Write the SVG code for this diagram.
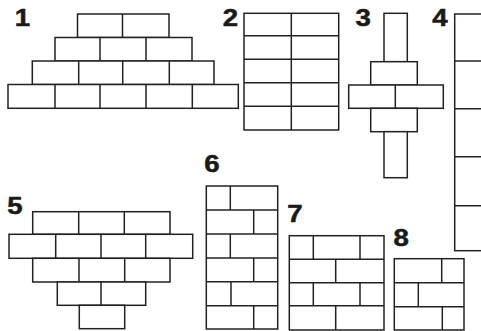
<svg xmlns="http://www.w3.org/2000/svg" width="481" height="331" viewBox="0 0 481 331">
<style>
.b{fill:#fff;stroke:#222;stroke-width:1.5}
.l{fill:none;stroke:#222;stroke-width:1.5}
.t{font-family:"Liberation Sans",Arial,sans-serif;font-weight:bold;font-size:23px;fill:#1a1a1a;stroke:#1a1a1a;stroke-width:0.5;text-anchor:middle}
</style>
<rect width="481" height="331" fill="#fff"/>
<g id="fig1">
<text class="t" transform="translate(22.5,26.3) scale(1.2,1)">1</text>
<rect class="b" x="77.5" y="14" width="91.5" height="23.5"/>
<line class="l" x1="122.5" y1="14" x2="122.5" y2="37.5"/>
<rect class="b" x="55" y="37.5" width="137" height="23.5"/>
<line class="l" x1="100" y1="37.5" x2="100" y2="61"/>
<line class="l" x1="146" y1="37.5" x2="146" y2="61"/>
<rect class="b" x="32.3" y="61" width="181.7" height="23.5"/>
<line class="l" x1="78.7" y1="61" x2="78.7" y2="84.5"/>
<line class="l" x1="122.7" y1="61" x2="122.7" y2="84.5"/>
<line class="l" x1="169.3" y1="61" x2="169.3" y2="84.5"/>
<rect class="b" x="8" y="84.5" width="230.3" height="23.8"/>
<line class="l" x1="55" y1="84.5" x2="55" y2="108.3"/>
<line class="l" x1="100" y1="84.5" x2="100" y2="108.3"/>
<line class="l" x1="146" y1="84.5" x2="146" y2="108.3"/>
<line class="l" x1="192.3" y1="84.5" x2="192.3" y2="108.3"/>
</g>
<g id="fig2">
<text class="t" transform="translate(230.5,26) scale(1.2,1)">2</text>
<rect class="b" x="244" y="13.3" width="94.7" height="116.7"/>
<line class="l" x1="291.3" y1="13.3" x2="291.3" y2="130"/>
<line class="l" x1="244" y1="35.7" x2="338.7" y2="35.7"/>
<line class="l" x1="244" y1="59.3" x2="338.7" y2="59.3"/>
<line class="l" x1="244" y1="82.7" x2="338.7" y2="82.7"/>
<line class="l" x1="244" y1="106.3" x2="338.7" y2="106.3"/>
</g>
<g id="fig3">
<text class="t" transform="translate(363.2,26) scale(1.2,1)">3</text>
<rect class="b" x="384" y="13.3" width="23.3" height="48.4"/>
<rect class="b" x="370.7" y="61.7" width="46.6" height="23.3"/>
<rect class="b" x="348.7" y="85" width="94.6" height="23.3"/>
<line class="l" x1="395.3" y1="85" x2="395.3" y2="108.3"/>
<rect class="b" x="370.7" y="108.3" width="46.6" height="23.4"/>
<rect class="b" x="384" y="131.7" width="23.3" height="46"/>
</g>
<g id="fig4">
<text class="t" transform="translate(440,26.3) scale(1.2,1)">4</text>
<rect class="b" x="454.7" y="14" width="40" height="236.7"/>
<line class="l" x1="454.7" y1="61" x2="494.7" y2="61"/>
<line class="l" x1="454.7" y1="108.7" x2="494.7" y2="108.7"/>
<line class="l" x1="454.7" y1="156.7" x2="494.7" y2="156.7"/>
<line class="l" x1="454.7" y1="205.7" x2="494.7" y2="205.7"/>
</g>
<g id="fig5">
<text class="t" transform="translate(15,213.5) scale(1.2,1)">5</text>
<rect class="b" x="32.7" y="211.7" width="137.3" height="22.6"/>
<line class="l" x1="78.7" y1="211.7" x2="78.7" y2="234.3"/>
<line class="l" x1="124.3" y1="211.7" x2="124.3" y2="234.3"/>
<rect class="b" x="9" y="234.3" width="183.7" height="24"/>
<line class="l" x1="55.7" y1="234.3" x2="55.7" y2="258.3"/>
<line class="l" x1="101" y1="234.3" x2="101" y2="258.3"/>
<line class="l" x1="145.7" y1="234.3" x2="145.7" y2="258.3"/>
<rect class="b" x="32.7" y="258.3" width="137.3" height="23.7"/>
<line class="l" x1="79" y1="258.3" x2="79" y2="282"/>
<line class="l" x1="124.7" y1="258.3" x2="124.7" y2="282"/>
<rect class="b" x="57.3" y="282" width="88.4" height="23.3"/>
<line class="l" x1="101" y1="282" x2="101" y2="305.3"/>
<rect class="b" x="79.3" y="305.3" width="45.4" height="23.4"/>
</g>
<g id="fig6">
<text class="t" transform="translate(212,172) scale(1.2,1)">6</text>
<rect class="b" x="206.3" y="186" width="71.4" height="143"/>
<line class="l" x1="206.3" y1="210" x2="277.7" y2="210"/>
<line class="l" x1="206.3" y1="234" x2="277.7" y2="234"/>
<line class="l" x1="206.3" y1="258" x2="277.7" y2="258"/>
<line class="l" x1="206.3" y1="281.7" x2="277.7" y2="281.7"/>
<line class="l" x1="206.3" y1="305.7" x2="277.7" y2="305.7"/>
<line class="l" x1="230.3" y1="186" x2="230.3" y2="210"/>
<line class="l" x1="253.7" y1="210" x2="253.7" y2="234"/>
<line class="l" x1="230.3" y1="234" x2="230.3" y2="258"/>
<line class="l" x1="253.7" y1="258" x2="253.7" y2="281.7"/>
<line class="l" x1="231" y1="281.7" x2="231" y2="305.7"/>
<line class="l" x1="253.7" y1="305.7" x2="253.7" y2="329"/>
</g>
<g id="fig7">
<text class="t" transform="translate(295,221.5) scale(1.2,1)">7</text>
<rect class="b" x="289.3" y="235.7" width="94.7" height="94.3"/>
<line class="l" x1="289.3" y1="259.3" x2="384" y2="259.3"/>
<line class="l" x1="289.3" y1="282.7" x2="384" y2="282.7"/>
<line class="l" x1="289.3" y1="305.7" x2="384" y2="305.7"/>
<line class="l" x1="313.3" y1="235.7" x2="313.3" y2="259.3"/>
<line class="l" x1="360" y1="235.7" x2="360" y2="259.3"/>
<line class="l" x1="335.7" y1="259.3" x2="335.7" y2="282.7"/>
<line class="l" x1="313.3" y1="282.7" x2="313.3" y2="305.7"/>
<line class="l" x1="360" y1="282.7" x2="360" y2="305.7"/>
<line class="l" x1="335.7" y1="305.7" x2="335.7" y2="330"/>
</g>
<g id="fig8">
<text class="t" transform="translate(401.2,246) scale(1.2,1)">8</text>
<rect class="b" x="394.3" y="258.7" width="69.7" height="71.3"/>
<line class="l" x1="394.3" y1="282.7" x2="464" y2="282.7"/>
<line class="l" x1="394.3" y1="306.7" x2="464" y2="306.7"/>
<line class="l" x1="441.7" y1="258.7" x2="441.7" y2="282.7"/>
<line class="l" x1="418.3" y1="282.7" x2="418.3" y2="306.7"/>
<line class="l" x1="442.3" y1="306.7" x2="442.3" y2="330"/>
</g>
<g id="connectors"/>
</svg>
